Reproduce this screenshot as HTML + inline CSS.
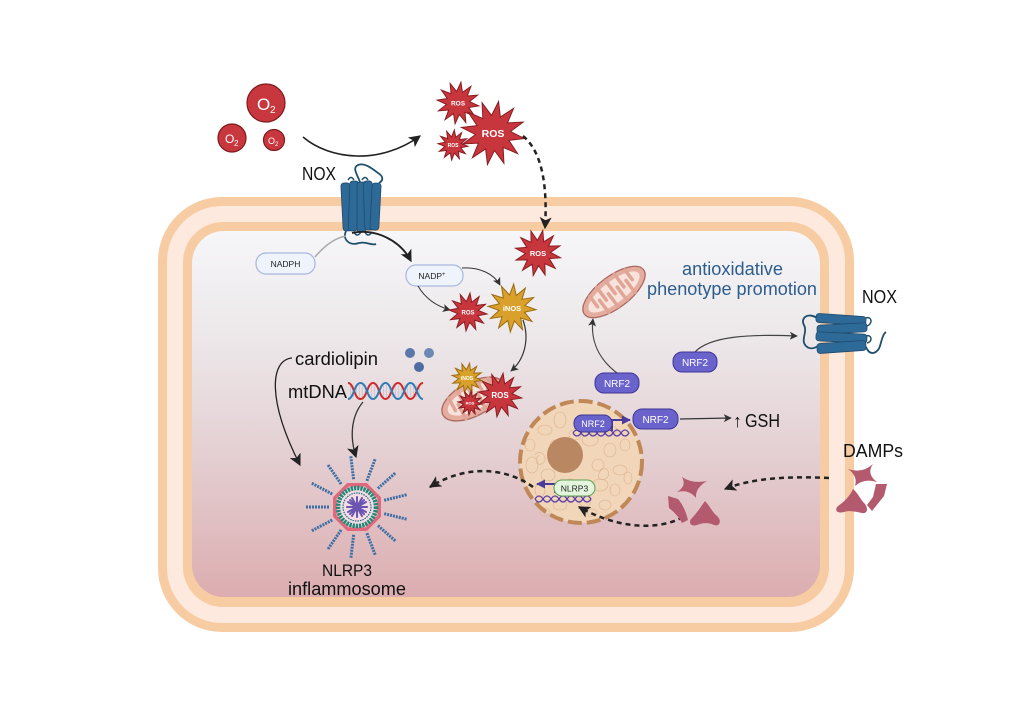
<!DOCTYPE html>
<html><head><meta charset="utf-8">
<style>
html,body{margin:0;padding:0;background:#fff;}
svg{display:block;}
text{font-family:"Liberation Sans",sans-serif;}
</style></head>
<body>
<svg width="1023" height="716" viewBox="0 0 1023 716" xmlns="http://www.w3.org/2000/svg">
<defs>
<linearGradient id="cyto" x1="0" y1="0" x2="0" y2="1">
<stop offset="0" stop-color="#f6f6f8"/>
<stop offset="0.3" stop-color="#ece7e9"/>
<stop offset="0.6" stop-color="#e4d0d3"/>
<stop offset="1" stop-color="#dcadb0"/>
</linearGradient>
<polygon id="star" vector-effect="non-scaling-stroke" points="100,0 53,14 87,50 39,39 50,87 14,53 0,100 -14,53 -50,87 -39,39 -87,50 -53,14 -100,0 -53,-14 -87,-50 -39,-39 -50,-87 -14,-53 0,-100 14,-53 50,-87 39,-39 87,-50 53,-14"/>
<marker id="mb" markerUnits="userSpaceOnUse" viewBox="0 0 10 10" refX="9" refY="5" markerWidth="12" markerHeight="12" orient="auto"><path d="M0,0 L10,5 L0,10 L2.5,5 z" fill="#222"/></marker>
<marker id="ms" markerUnits="userSpaceOnUse" viewBox="0 0 10 10" refX="9" refY="5" markerWidth="8" markerHeight="8" orient="auto"><path d="M0,0 L10,5 L0,10 L2.5,5 z" fill="#333"/></marker>
<marker id="mp" markerUnits="userSpaceOnUse" viewBox="0 0 10 10" refX="9" refY="5" markerWidth="9" markerHeight="9" orient="auto"><path d="M0,0 L10,5 L0,10 z" fill="#4a3a9a"/></marker>
</defs>

<rect width="1023" height="716" fill="#fff"/>

<!-- Cell membrane -->
<rect x="158" y="197" width="696" height="435" rx="64" fill="#f7cca3"/>
<rect x="167" y="206" width="678" height="417" rx="55" fill="#fde9dd"/>
<rect x="183" y="222" width="646" height="385" rx="40" fill="#f7cca3"/>
<rect x="192" y="231" width="628" height="366" rx="32" fill="url(#cyto)"/>

<!-- O2 molecules -->
<circle cx="266" cy="103" r="19" fill="#c8373d" stroke="#7d1a1f" stroke-width="1.2"/>
<text x="257" y="110" font-size="17" fill="#fff">O</text><text x="270" y="113" font-size="10" fill="#fff">2</text>
<circle cx="232" cy="138" r="14" fill="#c8373d" stroke="#7d1a1f" stroke-width="1.2"/>
<text x="225" y="143" font-size="12" fill="#fff">O</text><text x="234" y="146" font-size="8" fill="#fff">2</text>
<circle cx="274" cy="140" r="10.5" fill="#c8373d" stroke="#7d1a1f" stroke-width="1.2"/>
<text x="268" y="144" font-size="9" fill="#fff">O</text><text x="275" y="146" font-size="6" fill="#fff">2</text>

<!-- O2 -> ROS arrow -->
<path d="M303,137 C330,160 380,165 420,136" fill="none" stroke="#222" stroke-width="1.6" marker-end="url(#mb)"/>

<!-- ROS cluster outside -->
<g transform="translate(458,103) rotate(8) scale(0.21)"><use href="#star" fill="#c8363d" stroke="#8a1d22"/></g>
<text x="458" y="105.5" font-size="6.5" font-weight="bold" fill="#fff" text-anchor="middle">ROS</text>
<g transform="translate(453,145) rotate(5) scale(0.15)"><use href="#star" fill="#c8363d" stroke="#8a1d22"/></g>
<text x="453" y="147" font-size="5" font-weight="bold" fill="#fff" text-anchor="middle">ROS</text>
<g transform="translate(493,133) rotate(10) scale(0.32)"><use href="#star" fill="#c8363d" stroke="#8a1d22"/></g>
<text x="493" y="137" font-size="10.5" font-weight="bold" fill="#fff" text-anchor="middle">ROS</text>

<!-- dotted ROS arrow -->
<path d="M523,136 C540,150 548,180 545,228" fill="none" stroke="#222" stroke-width="2.5" stroke-dasharray="5 4" marker-end="url(#mb)"/>

<!-- NOX top -->
<text x="302" y="180" font-size="18" fill="#111" textLength="34" lengthAdjust="spacingAndGlyphs">NOX</text>
<path d="M360,182 C357,174 352,168 358,165 C365,162 374,170 378,173 C383,176 384,180 379,183" fill="none" stroke="#1f4f6b" stroke-width="1.8"/>
<g stroke="#1f4a6e" stroke-width="0.8" fill="#2e6a97">
<rect x="342" y="183" width="9" height="48" rx="3" transform="rotate(-3 346 207)"/>
<rect x="349" y="181" width="9" height="50" rx="3" transform="rotate(2 353 206)"/>
<rect x="357" y="182" width="9" height="50" rx="3"/>
<rect x="364" y="181" width="9" height="49" rx="3" transform="rotate(-2 368 206)"/>
<rect x="371" y="183" width="9" height="47" rx="3" transform="rotate(3 375 206)"/>
</g>
<path d="M348,180 q3,-5 6,0 M362,180 q3,-5 6,0" fill="none" stroke="#1f4f6b" stroke-width="1.5"/>
<path d="M354,232 q3,6 7,0 M365,232 q3,6 7,0" fill="none" stroke="#1f4f6b" stroke-width="1.5"/>
<path d="M346,231 C342,240 350,246 359,243 C367,241 371,246 376,244" fill="none" stroke="#1f4f6b" stroke-width="1.8"/>

<!-- NADPH -->
<path d="M315,257 C325,245 335,238 346,236" fill="none" stroke="#aaa" stroke-width="1.5"/>
<rect x="256" y="253" width="59" height="21" rx="10" fill="#eef3fc" stroke="#a7b7e0" stroke-width="1.2"/>
<text x="285.5" y="267" font-size="8.5" fill="#222" text-anchor="middle">NADPH</text>
<path d="M352,233 C375,228 400,240 411,261" fill="none" stroke="#222" stroke-width="1.8" marker-end="url(#mb)"/>

<!-- NADP+ -->
<rect x="406" y="265" width="57" height="21" rx="10" fill="#eef3fc" stroke="#a7b7e0" stroke-width="1.2"/>
<text x="432" y="279" font-size="8.5" fill="#222" text-anchor="middle">NADP<tspan font-size="6" dy="-3">+</tspan></text>
<path d="M462,268 C480,267 494,274 500,285" fill="none" stroke="#333" stroke-width="1" marker-end="url(#ms)"/>
<path d="M418,286 C425,298 436,306 450,310" fill="none" stroke="#333" stroke-width="1" marker-end="url(#ms)"/>

<!-- ROS inside -->
<g transform="translate(538,253) rotate(12) scale(0.23)"><use href="#star" fill="#c8363d" stroke="#8a1d22"/></g>
<text x="538" y="256" font-size="7.5" font-weight="bold" fill="#fff" text-anchor="middle">ROS</text>
<g transform="translate(468,312) rotate(6) scale(0.19)"><use href="#star" fill="#c8363d" stroke="#8a1d22"/></g>
<text x="468" y="314.5" font-size="6" font-weight="bold" fill="#fff" text-anchor="middle">ROS</text>
<g transform="translate(512,308) rotate(4) scale(0.24)"><use href="#star" fill="#d9a12b" stroke="#9a6c12"/></g>
<text x="512" y="311" font-size="7.5" font-weight="bold" fill="#fff" text-anchor="middle">iNOS</text>

<path d="M523,320 C530,340 524,360 511,371" fill="none" stroke="#333" stroke-width="1.2" marker-end="url(#ms)"/>

<!-- damaged mitochondrion -->
<g transform="translate(473,399) rotate(-28)">
<ellipse rx="34" ry="17" fill="#e5ada0" stroke="#a96a5e" stroke-width="1.3"/>
<ellipse rx="28" ry="11.5" fill="#f8e3dc"/>
<path d="M-21,-12 V2 M-10,-15 V2 M1,-15 V2 M12,-14 V2 M23,-11 V1 M-15.5,14 V-2 M-4.5,15 V-2 M6.5,15 V-2 M17.5,13 V-2" stroke="#e0a596" stroke-width="3.5" stroke-linecap="round"/>
</g>
<g transform="translate(467,378) rotate(10) scale(0.15)"><use href="#star" fill="#d9a12b" stroke="#9a6c12"/></g>
<text x="467" y="380" font-size="5" font-weight="bold" fill="#fff" text-anchor="middle">iNOS</text>
<g transform="translate(470,403) rotate(5) scale(0.12)"><use href="#star" fill="#c8363d" stroke="#8a1d22"/></g>
<text x="470" y="404.5" font-size="4" font-weight="bold" fill="#fff" text-anchor="middle">ROS</text>
<g transform="translate(500,395) rotate(8) scale(0.22)"><use href="#star" fill="#c8363d" stroke="#8a1d22"/></g>
<text x="500" y="398" font-size="8" font-weight="bold" fill="#fff" text-anchor="middle">ROS</text>

<!-- top mitochondrion -->
<g transform="translate(614,292) rotate(-37)">
<ellipse rx="37" ry="16" fill="#e5ada0" stroke="#a96a5e" stroke-width="1.3"/>
<ellipse rx="31" ry="11" fill="#f8e3dc"/>
<path d="M-22,-11 V2 M-11,-14 V2 M0,-14 V2 M11,-14 V2 M22,-11 V1 M-16.5,13 V-2 M-5.5,14 V-2 M5.5,14 V-2 M16.5,13 V-2" stroke="#e0a596" stroke-width="3.5" stroke-linecap="round"/>
</g>

<!-- antioxidative text -->
<text x="682" y="275" font-size="18" fill="#2b5d8e" textLength="101" lengthAdjust="spacingAndGlyphs">antioxidative</text>
<text x="647" y="295" font-size="18" fill="#2b5d8e" textLength="170" lengthAdjust="spacingAndGlyphs">phenotype promotion</text>

<!-- right NOX -->
<text x="862" y="303" font-size="18" fill="#111" textLength="35" lengthAdjust="spacingAndGlyphs">NOX</text>
<path d="M817,318 C808,312 800,318 804,325 C808,332 800,340 806,346 C810,350 815,348 818,346" fill="none" stroke="#1f4f6b" stroke-width="1.8"/>
<g stroke="#1f4a6e" stroke-width="0.8" fill="#2e6a97">
<rect x="816" y="315" width="50" height="9" rx="3" transform="rotate(4 841 319)"/>
<rect x="817" y="324" width="50" height="9" rx="3" transform="rotate(-3 842 328)"/>
<rect x="816" y="333" width="51" height="9" rx="3" transform="rotate(3 841 337)"/>
<rect x="817" y="342" width="49" height="10" rx="3" transform="rotate(-4 841 347)"/>
</g>
<path d="M866,318 C872,316 873,324 867,326 M866,336 C872,334 873,342 867,343" fill="none" stroke="#1f4f6b" stroke-width="1.5"/>
<path d="M866,347 C870,357 878,353 880,346 C882,339 883,334 886,332" fill="none" stroke="#1f4f6b" stroke-width="1.8"/>

<!-- NRF2 arrows -->
<path d="M617,373 C600,360 590,342 593,319" fill="none" stroke="#444" stroke-width="1.2" marker-end="url(#ms)"/>
<path d="M695,352 C710,336 750,334 797,336" fill="none" stroke="#444" stroke-width="1.2" marker-end="url(#ms)"/>

<!-- NRF2 pills -->
<g stroke="#3d3494" stroke-width="1" fill="#6b63cc">
<rect x="595" y="373" width="44" height="20" rx="9"/>
<rect x="673" y="352" width="44" height="20" rx="9"/>
</g>
<text x="617" y="387" font-size="10" fill="#fff" text-anchor="middle">NRF2</text>
<text x="695" y="366" font-size="10" fill="#fff" text-anchor="middle">NRF2</text>

<!-- Nucleus -->
<circle cx="581" cy="462" r="61" fill="#f1d6b9"/>
<g fill="none" stroke="#dcb08c" stroke-width="0.55">
<ellipse cx="545" cy="430" rx="7" ry="5"/><ellipse cx="560" cy="420" rx="6" ry="8"/><ellipse cx="590" cy="440" rx="8" ry="6"/>
<ellipse cx="610" cy="450" rx="6" ry="7"/><ellipse cx="620" cy="470" rx="7" ry="5"/><ellipse cx="600" cy="485" rx="8" ry="6"/>
<ellipse cx="585" cy="500" rx="6" ry="7"/><ellipse cx="560" cy="505" rx="7" ry="5"/><ellipse cx="540" cy="490" rx="5" ry="7"/>
<ellipse cx="532" cy="465" rx="6" ry="8"/><ellipse cx="548" cy="475" rx="7" ry="6"/><ellipse cx="598" cy="465" rx="6" ry="6"/>
<ellipse cx="615" cy="490" rx="5" ry="6"/><ellipse cx="575" cy="435" rx="6" ry="5"/><ellipse cx="530" cy="445" rx="5" ry="6"/>
<ellipse cx="625" cy="445" rx="5" ry="6"/><ellipse cx="605" cy="505" rx="6" ry="5"/><ellipse cx="570" cy="485" rx="6" ry="6"/>
<ellipse cx="590" cy="420" rx="7" ry="5"/><ellipse cx="555" cy="445" rx="5" ry="5"/><ellipse cx="612" cy="430" rx="5" ry="4"/>
<ellipse cx="545" cy="512" rx="5" ry="4"/><ellipse cx="592" cy="513" rx="5" ry="4"/><ellipse cx="628" cy="478" rx="4" ry="6"/>
<path d="M535,455 c6,-8 14,4 8,8 s-10,-2 -4,-8 M600,470 c8,-6 12,6 5,9 s-9,-4 -3,-10 M565,495 c4,-9 13,-2 9,5 s-11,0 -5,-7"/>
</g>
<circle cx="581" cy="462" r="61" fill="none" stroke="#c08757" stroke-width="4" stroke-dasharray="14 5"/>
<circle cx="565" cy="455" r="18" fill="#b98762"/>

<!-- NRF2 in nucleus -->
<g fill="none" stroke="#5b3fa8" stroke-width="1.3">
<path d="M573,433 Q577,439 581,433 T589,433 T597,433 T605,433 T613,433 T621,433 T629,433"/>
<path d="M573,433 Q577,427 581,433 T589,433 T597,433 T605,433 T613,433 T621,433 T629,433"/>
</g>
<path d="M612,431 L612,420 L630,420" fill="none" stroke="#4a3a9a" stroke-width="2" marker-end="url(#mp)"/>
<g stroke="#3d3494" stroke-width="1" fill="#6b63cc">
<rect x="574" y="415" width="38" height="17" rx="8"/>
<rect x="633" y="409" width="45" height="20" rx="9"/>
</g>
<text x="593" y="427" font-size="9" fill="#fff" text-anchor="middle">NRF2</text>
<text x="655.5" y="423" font-size="10" fill="#fff" text-anchor="middle">NRF2</text>
<path d="M680,419 L731,418" fill="none" stroke="#333" stroke-width="1.2" marker-end="url(#ms)"/>
<text x="733" y="427" font-size="18" fill="#111">↑</text>
<text x="745" y="427" font-size="18" fill="#111" textLength="35" lengthAdjust="spacingAndGlyphs">GSH</text>

<!-- NLRP3 in nucleus -->
<g fill="none" stroke="#5b3fa8" stroke-width="1.3">
<path d="M535,499 Q539,505 543,499 T551,499 T559,499 T567,499 T575,499 T583,499 T591,499"/>
<path d="M535,499 Q539,493 543,499 T551,499 T559,499 T567,499 T575,499 T583,499 T591,499"/>
</g>
<path d="M555,493 L555,484 L537,484" fill="none" stroke="#4a3a9a" stroke-width="2" marker-end="url(#mp)"/>
<rect x="554" y="480" width="41" height="16" rx="8" fill="#e3f5dc" stroke="#5f9e52" stroke-width="1"/>
<text x="574.5" y="491.5" font-size="8.5" fill="#222" text-anchor="middle">NLRP3</text>

<!-- dotted arrows -->
<path d="M533,487 C510,470 470,462 430,487" fill="none" stroke="#222" stroke-width="2.5" stroke-dasharray="5 4" marker-end="url(#mb)"/>
<path d="M683,517 C660,530 620,530 579,507" fill="none" stroke="#222" stroke-width="2.5" stroke-dasharray="5 4" marker-end="url(#mb)"/>
<path d="M829,478 C790,476 752,478 725,489" fill="none" stroke="#222" stroke-width="2.5" stroke-dasharray="5 4" marker-end="url(#mb)"/>

<!-- DAMPs inside -->
<g fill="#b45a6e">
<path d="M682,477 Q692,484 707,481 Q695,488 696,498 Q689,489 677,492 Q687,486 682,477 Z"/>
<path d="M668,496 L678,499 C683,505 686,512 688,520 L682,523 C678,516 674,512 669,508 Z"/>
<path d="M705,501 C700,508 696,514 692,518 C688,522 690,527 697,525 C702,523 708,522 714,525 C720,527 722,520 717,516 C712,512 710,506 705,501 Z"/>
</g>
<!-- DAMPs outside -->
<text x="843" y="457" font-size="18" fill="#111" textLength="60" lengthAdjust="spacingAndGlyphs">DAMPs</text>
<g fill="#b45a6e">
<path d="M848,469 Q862,474 873,464 Q866,474 877,482 Q864,478 855,486 Q858,476 848,469 Z"/>
<path d="M853,489 C850,496 844,502 838,506 C834,510 837,514 844,512 C850,510 856,512 862,513 C868,514 868,508 865,504 C860,499 858,493 853,489 Z"/>
<path d="M876,484 L887,484 L884,496 L872,511 L867,505 L873,497 Z"/>
</g>

<!-- cardiolipin / mtDNA -->
<text x="295" y="365" font-size="18" fill="#111" textLength="83" lengthAdjust="spacingAndGlyphs">cardiolipin</text>
<circle cx="410" cy="353" r="5" fill="#5a78ab"/>
<circle cx="429" cy="353" r="5" fill="#6d88b5"/>
<circle cx="419" cy="367" r="5" fill="#4e6da3"/>
<text x="288" y="398" font-size="18" fill="#111" textLength="59" lengthAdjust="spacingAndGlyphs">mtDNA</text>
<line x1="350" y1="391" x2="422" y2="391" stroke="#a9bcd2" stroke-width="12" stroke-dasharray="1 2" opacity="0.5"/>
<path d="M348,383 C354,383 354,399 360.5,399 S367,383 373,383 S379.5,399 385.5,399 S392,383 398,383 S404.5,399 410.5,399 S417,383 423,383" fill="none" stroke="#d02a2a" stroke-width="2"/>
<path d="M348,399 C354,399 354,383 360.5,383 S367,399 373,399 S379.5,383 385.5,383 S392,399 398,399 S404.5,383 410.5,383 S417,399 423,399" fill="none" stroke="#2f7bb5" stroke-width="2"/>

<path d="M292,358 C270,360 267,400 300,465" fill="none" stroke="#222" stroke-width="1.3" marker-end="url(#mb)"/>
<path d="M363,402 C352,415 349,435 356,457" fill="none" stroke="#333" stroke-width="1.3" marker-end="url(#mb)"/>

<!-- NLRP3 inflammasome -->
<g stroke="#3a6ea5" stroke-width="3" stroke-dasharray="2 1">
<line x1="353.6" y1="479.2" x2="350.7" y2="455.4"/>
<line x1="366.9" y1="480.8" x2="375.4" y2="458.4"/>
<line x1="377.9" y1="488.4" x2="395.9" y2="472.5"/>
<line x1="384.2" y1="500.3" x2="407.5" y2="494.5"/>
<line x1="384.2" y1="513.7" x2="407.5" y2="519.4"/>
<line x1="378.0" y1="525.6" x2="396.0" y2="541.5"/>
<line x1="366.9" y1="533.2" x2="375.5" y2="555.6"/>
<line x1="353.6" y1="534.8" x2="350.8" y2="558.6"/>
<line x1="341.1" y1="530.0" x2="327.5" y2="549.8"/>
<line x1="332.2" y1="520.0" x2="311.0" y2="531.2"/>
<line x1="329" y1="507" x2="305" y2="507"/>
<line x1="332.2" y1="494.0" x2="311.0" y2="482.8"/>
<line x1="341.1" y1="484.0" x2="327.5" y2="464.2"/>
</g>
<polygon points="379.2,516.2 366.2,529.2 347.8,529.2 334.8,516.2 334.8,497.8 347.8,484.8 366.2,484.8 379.2,497.8" fill="none" stroke="#e0677c" stroke-width="3.5" stroke-linejoin="round"/>
<circle cx="357" cy="507" r="19" fill="#f2dde2" stroke="#1e8878" stroke-width="4.5" stroke-dasharray="2.2 1"/>
<circle cx="357" cy="507" r="14" fill="none" stroke="#2f6a8a" stroke-width="1.2" stroke-dasharray="1.5 1"/>
<g stroke="#6a55b0" stroke-width="2" stroke-linecap="round">
<line x1="347" y1="507" x2="367" y2="507"/><line x1="357" y1="497" x2="357" y2="517"/>
<line x1="350" y1="500" x2="364" y2="514"/><line x1="364" y1="500" x2="350" y2="514"/>
<line x1="348" y1="502" x2="366" y2="512"/><line x1="352" y1="498" x2="362" y2="516"/>
<line x1="362" y1="498" x2="352" y2="516"/><line x1="366" y1="502" x2="348" y2="512"/>
</g>
<circle cx="357" cy="507" r="3" fill="#6a55b0"/>

<text x="347" y="576" font-size="17" fill="#111" text-anchor="middle" textLength="50" lengthAdjust="spacingAndGlyphs">NLRP3</text>
<text x="347" y="595" font-size="18" fill="#111" text-anchor="middle" textLength="118" lengthAdjust="spacingAndGlyphs">inflammosome</text>
</svg>
</body></html>
